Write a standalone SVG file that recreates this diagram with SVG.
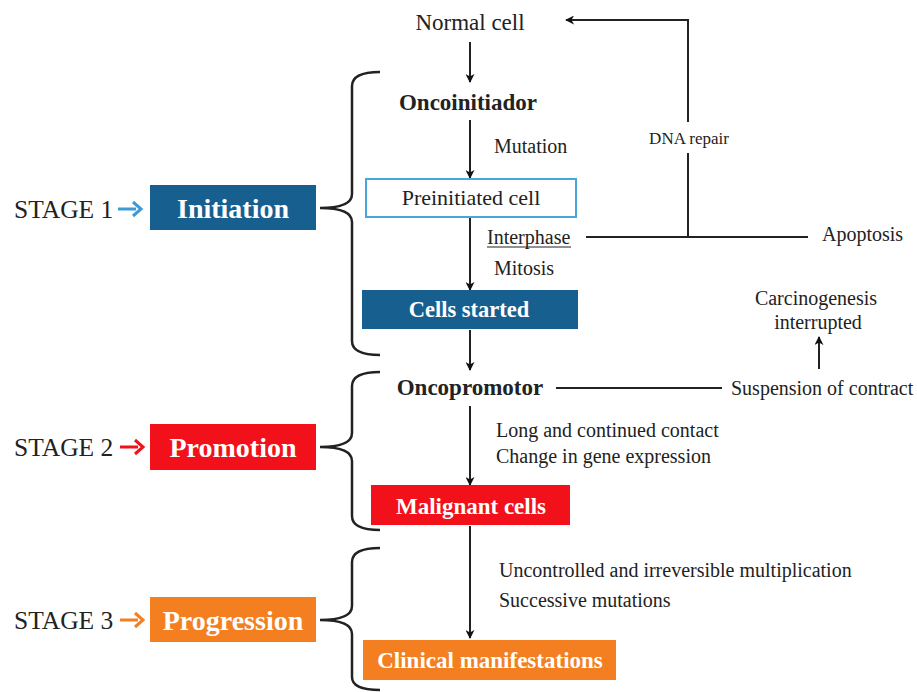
<svg xmlns="http://www.w3.org/2000/svg" width="917" height="692" viewBox="0 0 917 692">
<defs>
<marker id="ah" viewBox="0 0 10 10" refX="9" refY="5" markerWidth="9" markerHeight="9" markerUnits="userSpaceOnUse" orient="auto">
<path d="M0,0 L10,5 L0,10 L3,5 Z" fill="#111"/>
</marker>
<style>
text{font-family:"Liberation Serif","Times New Roman",serif;fill:#222}
.t{font-size:20px}
.s{font-size:25.5px}
.b{font-weight:bold}
.w{fill:#fff;font-weight:bold}
.c{stroke:#222;stroke-width:2;fill:none}
.a{marker-end:url(#ah)}
.br{stroke:#222;stroke-width:2.5;fill:none}
</style>
</defs>
<rect width="917" height="692" fill="#fff"/>

<g id="connectors">
<line class="c a" x1="470" y1="42" x2="470" y2="82"/>
<line class="c a" x1="470" y1="120" x2="470" y2="178"/>
<line class="c a" x1="470" y1="218" x2="470" y2="290"/>
<line class="c a" x1="470" y1="330" x2="470" y2="370"/>
<line class="c a" x1="470" y1="406" x2="470" y2="485"/>
<line class="c a" x1="470" y1="526" x2="470" y2="638"/>
<line class="c" x1="586" y1="237" x2="808" y2="237"/>
<polyline class="c" points="688,237 688,153"/>
<polyline class="c a" points="688,122 688,20 566,20"/>
<line class="c" x1="556" y1="388" x2="722" y2="388"/>
<line class="c a" x1="819" y1="369" x2="819" y2="337"/>
<line x1="118" y1="209" x2="136" y2="209" stroke="#3d9ad6" stroke-width="3"/>
<polyline points="133,202 141,209 133,216" stroke="#3d9ad6" stroke-width="3" fill="none"/>
<line x1="120" y1="447" x2="138" y2="447" stroke="#f2101a" stroke-width="3"/>
<polyline points="135,440 143,447 135,454" stroke="#f2101a" stroke-width="3" fill="none"/>
<line x1="120" y1="620" x2="138" y2="620" stroke="#f47f20" stroke-width="3"/>
<polyline points="135,613 143,620 135,627" stroke="#f47f20" stroke-width="3" fill="none"/>
</g>

<g id="braces">
<path class="br" d="M380,72 Q352,72 352,86 L352,194 Q352,208 320,208 Q352,208 352,222 L352,341 Q352,355 380,355"/>
<path class="br" d="M380,372 Q352,372 352,386 L352,433 Q352,447 320,447 Q352,447 352,461 L352,516 Q352,530 380,530"/>
<path class="br" d="M380,548 Q352,548 352,562 L352,606 Q352,620 320,620 Q352,620 352,634 L352,677 Q352,690 380,690"/>
</g>

<g id="stage1"><text class="s" x="14" y="218">STAGE 1</text></g>
<g id="initiation"><rect x="150" y="185" width="166" height="45" fill="#175f8f"/><text class="w" x="233" y="218" text-anchor="middle" style="font-size:28px">Initiation</text></g>
<g id="stage2"><text class="s" x="14" y="456">STAGE 2</text></g>
<g id="promotion"><rect x="150" y="424" width="166" height="46" fill="#f2101a"/><text class="w" x="233" y="457" text-anchor="middle" style="font-size:28px">Promotion</text></g>
<g id="stage3"><text class="s" x="14" y="629">STAGE 3</text></g>
<g id="progression"><rect x="150" y="597" width="166" height="45" fill="#f47f20"/><text class="w" x="233" y="630" text-anchor="middle" style="font-size:28px">Progression</text></g>

<g id="normal-cell"><text x="470" y="30" text-anchor="middle" style="font-size:23px">Normal cell</text></g>
<g id="oncoinitiador"><text class="b" x="468" y="110" text-anchor="middle" style="font-size:23px">Oncoinitiador</text></g>
<g id="mutation"><text class="t" x="494" y="153">Mutation</text></g>
<g id="dna-repair"><text x="689" y="144" text-anchor="middle" style="font-size:17px">DNA repair</text></g>
<g id="preinitiated-cell"><rect x="366" y="179" width="210" height="38" fill="#fff" stroke="#49a6dc" stroke-width="2"/><text x="471" y="205" text-anchor="middle" style="font-size:22px">Preinitiated cell</text></g>
<g id="interphase"><text class="t" x="487" y="244">Interphase</text><line x1="487" y1="247" x2="571" y2="247" stroke="#222" stroke-width="1"/></g>
<g id="apoptosis"><text class="t" x="822" y="241">Apoptosis</text></g>
<g id="mitosis"><text class="t" x="494" y="275">Mitosis</text></g>
<g id="cells-started"><rect x="362" y="290" width="216" height="39" fill="#175f8f"/><text class="w" x="469" y="317" text-anchor="middle" style="font-size:22.5px">Cells started</text></g>
<g id="carcinogenesis"><text class="t" x="816" y="305" text-anchor="middle">Carcinogenesis</text><text class="t" x="818" y="329" text-anchor="middle">interrupted</text></g>
<g id="oncopromotor"><text class="b" x="470" y="395" text-anchor="middle" style="font-size:23px">Oncopromotor</text></g>
<g id="suspension"><text class="t" x="731" y="395">Suspension of contract</text></g>
<g id="promotion-notes"><text class="t" x="496" y="437">Long and continued contact</text><text class="t" x="496" y="463">Change in gene expression</text></g>
<g id="malignant-cells"><rect x="371" y="485" width="199" height="40" fill="#f2101a"/><text class="w" x="471" y="514" text-anchor="middle" style="font-size:23px">Malignant cells</text></g>
<g id="progression-notes"><text class="t" x="499" y="577">Uncontrolled and irreversible multiplication</text><text class="t" x="499" y="607">Successive mutations</text></g>
<g id="clinical-manifestations"><rect x="363" y="640" width="253" height="40" fill="#f47f20"/><text class="w" x="490" y="668" text-anchor="middle" style="font-size:23px">Clinical manifestations</text></g>
</svg>
